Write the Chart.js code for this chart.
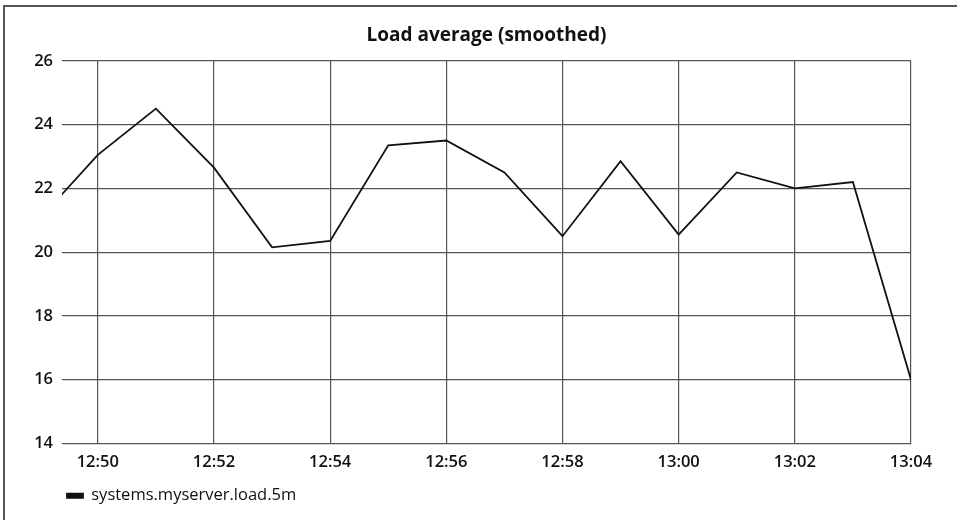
<!DOCTYPE html>
<html>
<head>
<meta charset="utf-8">
<script src="https://cdn.jsdelivr.net/npm/chart.js@4/dist/chart.umd.min.js"></script>
<style>
    body { margin: 0; background: #fff; }
    .quadro { position: absolute; left: 3px; top: 5px; width: 954px; height: 515px; border-left: 2px solid #555; border-top: 2px solid #555; }
    .grafico { position: absolute; left: 0; top: 0; width: 957px; height: 520px; }
</style>
</head>
<body>
<div class="quadro"></div>
<div class="grafico"><canvas data-js="grafico-load"></canvas></div>
<script>
// horarios (hh:mm) e valores
const horarios = ['12:49', '12:50', '12:51', '12:52', '12:53', '12:54', '12:55', '12:56',
    '12:57', '12:58', '12:59', '13:00', '13:01', '13:02', '13:03', '13:04'];
const load5m = [21.05, 23.05, 24.5, 22.65, 20.15, 20.35, 23.35, 23.5,
    22.5, 20.5, 22.85, 20.55, 22.5, 22.0, 22.2, 16.0];
const ticksX = ['12:50', '12:52', '12:54', '12:56', '12:58', '13:00', '13:02', '13:04'];
const ticksY = [14, 16, 18, 20, 22, 24, 26];
const inicioX = '12:49:23';

function paraMinutos(hora) {
    const partes = hora.split(':').map(Number);
    return (partes[0] - 12) * 60 + partes[1] + (partes[2] || 0) / 60;
}

function formataHora(min) {
    const h = 12 + Math.floor(min / 60);
    const m = Math.round(min % 60);
    return `${h}:${String(m).padStart(2, '0')}`;
}

const pontos = horarios.map((h, i) => ({ x: paraMinutos(h), y: load5m[i] }));
const fonte = "'Open Sans', sans-serif";

const canvas = document.querySelector('[data-js="grafico-load"]');

const graficoLoad = new Chart(canvas, {
    type: 'line',
    data: {
        datasets: [{
            label: 'systems.myserver.load.5m',
            data: pontos,
            borderColor: '#111',
            backgroundColor: '#111',
            borderWidth: 1.8,
            pointRadius: 0,
            tension: 0,
            fill: false
        }]
    },
    options: {
        responsive: true,
        maintainAspectRatio: false,
        animation: false,
        layout: { padding: { left: 0, right: 46, top: 0, bottom: 6 } },
        plugins: {
            tooltip: { enabled: false },
            title: {
                display: true,
                fullSize: false,
                text: 'Load average (smoothed)',
                color: '#111',
                font: { family: fonte, size: 19, weight: 'bold' },
                padding: { top: 24, bottom: 14 }
            },
            legend: {
                position: 'bottom',
                align: 'start',
                fullSize: false,
                labels: {
                    color: '#111',
                    font: { family: fonte, size: 16.5 },
                    boxWidth: 16,
                    boxHeight: 4,
                    padding: 5
                }
            }
        },
        scales: {
            x: {
                type: 'linear',
                min: paraMinutos(inicioX),
                max: paraMinutos(ticksX[ticksX.length - 1]),
                afterBuildTicks: (escala) => {
                    escala.ticks = ticksX.map(t => ({ value: paraMinutos(t) }));
                },
                afterFit: (escala) => { escala.height = 39; },
                ticks: {
                    color: '#111',
                    font: { family: fonte, size: 16.5, weight: '600' },
                    padding: 9,
                    maxRotation: 0,
                    autoSkip: false,
                    callback: (v) => formataHora(v)
                },
                grid: { color: '#555', lineWidth: 1.2, drawTicks: false },
                border: { display: false }
            },
            y: {
                min: ticksY[0],
                max: ticksY[ticksY.length - 1],
                afterBuildTicks: (escala) => {
                    escala.ticks = ticksY.map(v => ({ value: v }));
                },
                afterFit: (escala) => { escala.width = 62; },
                ticks: {
                    color: '#111',
                    font: { family: fonte, size: 16.5, weight: '600' },
                    padding: 9
                },
                grid: { color: '#555', lineWidth: 1.2, drawTicks: false },
                border: { display: false }
            }
        }
    }
});
</script>
</body>
</html>
